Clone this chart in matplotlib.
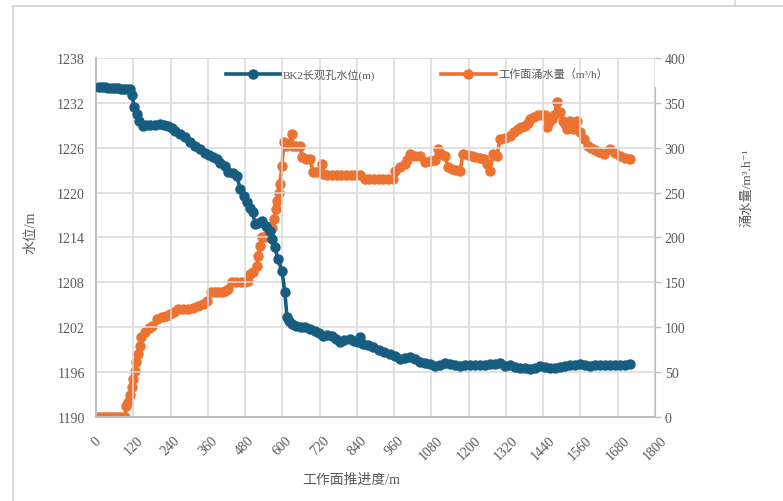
"""
BK2 long-term observation well water level vs. working face inflow.
"""

import matplotlib.pyplot as plt
from matplotlib.lines import Line2D

# advance distance (m) and water level (m) of the BK2 well
level_x = [10, 20, 30, 40, 50, 60, 70, 80, 90, 100, 110, 116, 122, 132, 140, 151,
           162, 174, 190, 206, 220, 232, 244, 254, 270, 287, 303, 319, 335, 351,
           365, 377, 390, 399, 415, 425, 440, 454, 464, 475, 486, 496, 505, 512,
           522, 534, 548, 560, 568, 576, 586, 599, 608, 615, 623, 631, 645, 660,
           673, 690, 705, 718, 731, 745, 760, 773, 786, 800, 818, 830, 843, 850,
           860, 875, 892, 910, 928, 947, 963, 979, 995, 1011, 1027, 1043, 1059,
           1075, 1091, 1108, 1124, 1140, 1156, 1172, 1188, 1204, 1220, 1236,
           1252, 1269, 1285, 1301, 1317, 1333, 1349, 1365, 1381, 1398, 1414,
           1430, 1446, 1462, 1478, 1494, 1510, 1526, 1542, 1558, 1574, 1590,
           1606, 1622, 1639, 1655, 1671, 1687, 1703, 1719]
level_y = [1234.1, 1234.1, 1234.1, 1234.05, 1234.0, 1234.0, 1233.95, 1233.9,
           1233.9, 1233.85, 1233.8, 1233.1, 1231.5, 1230.5, 1229.6, 1228.9,
           1229.0, 1229.0, 1229.1, 1229.2, 1229.0, 1228.9, 1228.6, 1228.2,
           1227.8, 1227.4, 1226.8, 1226.2, 1225.8, 1225.3, 1225.0, 1224.8,
           1224.5, 1224.0, 1223.5, 1222.8, 1222.6, 1222.2, 1220.5, 1219.6,
           1218.7, 1217.9, 1217.4, 1215.8, 1216.0, 1216.2, 1215.6, 1214.9,
           1213.8, 1212.7, 1211.1, 1209.5, 1206.7, 1203.4, 1202.8, 1202.4,
           1202.2, 1202.1, 1202.0, 1201.8, 1201.5, 1201.2, 1200.8, 1200.9,
           1200.8, 1200.4, 1200.0, 1200.3, 1200.4, 1200.2, 1200.0, 1200.7,
           1199.8, 1199.6, 1199.4, 1199.0, 1198.7, 1198.4, 1198.1, 1197.8,
           1197.9, 1198.0, 1197.7, 1197.4, 1197.2, 1197.1, 1196.8, 1196.9,
           1197.2, 1197.1, 1197.0, 1196.8, 1196.9, 1197.0, 1197.0, 1196.9,
           1197.0, 1197.1, 1197.1, 1197.2, 1196.8, 1196.9, 1196.7, 1196.6,
           1196.5, 1196.4, 1196.6, 1196.8, 1196.7, 1196.6, 1196.6, 1196.7,
           1196.8, 1196.9, 1197.0, 1197.1, 1196.9, 1196.8, 1196.9, 1197.0,
           1197.0, 1197.0, 1197.0, 1197.0, 1197.0, 1197.1]

# advance distance (m) and working face water inflow (m3/h)
flow_x = [5, 15, 25, 35, 45, 55, 65, 75, 85, 93, 98, 103, 110, 116, 119, 124,
          129, 135, 142, 145, 158, 170, 180, 196, 212, 225, 238, 250, 264, 280,
          296, 312, 328, 343, 357, 370, 382, 393, 405, 415, 425, 438, 452, 466,
          480, 490, 496, 507, 518, 522, 528, 536, 544, 554, 567, 573, 578, 583,
          588, 592, 599, 605, 613, 620, 631, 634, 645, 657, 663, 676, 689, 699,
          710, 721, 728, 731, 745, 760, 775, 790, 805, 820, 835, 850, 866, 880,
          895, 910, 925, 940, 955, 963, 979, 995, 1003, 1011, 1027, 1043, 1059,
          1075, 1091, 1101, 1112, 1124, 1133, 1145, 1160, 1172, 1182, 1198,
          1210, 1220, 1235, 1250, 1259, 1269, 1279, 1291, 1301, 1317, 1333,
          1346, 1359, 1370, 1381, 1392, 1398, 1411, 1423, 1435, 1446, 1452,
          1460, 1468, 1476, 1484, 1494, 1504, 1510, 1517, 1526, 1536, 1549,
          1558, 1571, 1584, 1595, 1607, 1620, 1636, 1655, 1671, 1687, 1703,
          1719]
flow_y = [0, 0, 0, 0, 0, 0, 0, 0, 0, 0, 12, 17, 25, 33, 42, 51, 61, 70, 79, 89,
          95, 99, 101, 109, 111, 113, 115, 117, 120, 120, 120, 122, 124, 126,
          129, 139, 139, 139, 139, 140, 143, 150, 150, 150, 150, 152, 159,
          162, 168, 179, 191, 200, 201, 209, 211, 221, 232, 241, 250, 260,
          280, 306, 302, 304, 315, 302, 302, 302, 290, 288, 287, 273, 273,
          273, 282, 271, 270, 270, 270, 270, 270, 270, 270, 270, 265, 265,
          265, 265, 265, 265, 265, 274, 278, 282, 286, 293, 291, 291, 284,
          285, 286, 299, 293, 291, 279, 276, 275, 274, 293, 292, 291, 290,
          289, 288, 282, 274, 293, 291, 310, 311, 313, 318, 321, 323, 324,
          328, 332, 334, 337, 337, 337, 323, 329, 332, 336, 351, 340, 330,
          326, 321, 330, 321, 330, 318, 310, 302, 300, 297, 295, 293, 299,
          294, 291, 289, 288]

x_ticks = list(range(0, 1801, 120))
level_ticks = list(range(1190, 1239, 6))
flow_ticks = list(range(0, 401, 50))

blue = '#175d80'
orange = '#ec7232'
text_grey = '#595959'
fonts = ['Liberation Serif', 'Noto Sans CJK SC', 'DejaVu Sans']
plt.rcParams['font.family'] = fonts

fig = plt.figure(figsize=(7.83, 5.02), dpi=100)
ax = fig.add_axes([96 / 783, 84 / 502, 559 / 783, 359 / 502])
ax2 = ax.twinx()

ax.plot(level_x, level_y, color=blue, lw=2.6, marker='o', ms=6.5,
        label='BK2长观孔水位(m)', zorder=3)
ax2.plot(flow_x, flow_y, color=orange, lw=2.6, marker='o', ms=6.5,
         label='工作面涌水量（m³/h）', zorder=3)

ax.set_xlim(0, 1800)
ax.set_ylim(1190, 1238)
ax2.set_ylim(0, 400)
ax.set_xticks(x_ticks)
ax.set_yticks(level_ticks)
ax2.set_yticks(flow_ticks)

ax.grid(True, color='#d9d9d9', lw=1.1)
ax.set_axisbelow(True)
ax.set_zorder(ax2.get_zorder() + 1)
ax.patch.set_visible(False)

for a in (ax, ax2):
    for s in a.spines.values():
        s.set_visible(False)
ax.spines['left'].set_visible(True)
ax.spines['bottom'].set_visible(True)
ax2.spines['right'].set_visible(True)
ax2.spines['right'].set_bounds(0, 367)
for s in (ax.spines['left'], ax.spines['bottom'], ax2.spines['right']):
    s.set_color('#bfbfbf')
    s.set_linewidth(1.5)

ax.tick_params(axis='y', length=0, pad=8, labelsize=10, labelcolor=text_grey)
ax.tick_params(axis='x', length=0, pad=12, labelsize=10, labelcolor=text_grey,
               labelrotation=45)
ax2.tick_params(axis='y', length=4, width=1, color='#bfbfbf', pad=3,
                labelsize=10, labelcolor=text_grey)

# axis titles
fig.text(31 / 783, 1 - 233 / 502, '水位/m', rotation=90, ha='center',
         va='center', fontsize=10, color=text_grey)
fig.text(747 / 783, 1 - 188 / 502, '涌水量/m³.h⁻¹', rotation=90, ha='center',
         va='center', fontsize=9.5, color=text_grey)
fig.text(351 / 783, 1 - 480 / 502, '工作面推进度/m', ha='center', va='center',
         fontsize=10, color=text_grey)

handles = [Line2D([], [], color=blue, lw=2.6, marker='o', ms=6.5),
           Line2D([], [], color=orange, lw=2.6, marker='o', ms=6.5)]
fig.legend(handles, ['BK2长观孔水位(m)', '工作面涌水量（m³/h）'],
           loc='center left', bbox_to_anchor=(220 / 783, 1 - 75 / 502),
           ncol=2, frameon=False, fontsize=8.0, handlelength=4.9,
           handletextpad=0.2, columnspacing=6.0, borderpad=0,
           labelcolor=text_grey)

# outer frame
fig.add_artist(Line2D([13 / 783, 13 / 783], [0, 1 - 7 / 502],
                      color='#d9d9d9', lw=1.5))
fig.add_artist(Line2D([13 / 783, 1], [1 - 7 / 502, 1 - 7 / 502],
                      color='#d9d9d9', lw=1.5))
fig.add_artist(Line2D([735 / 783, 735 / 783], [1 - 7 / 502, 1],
                      color='#d9d9d9', lw=1.2))

fig.savefig('out.png', dpi=100)
